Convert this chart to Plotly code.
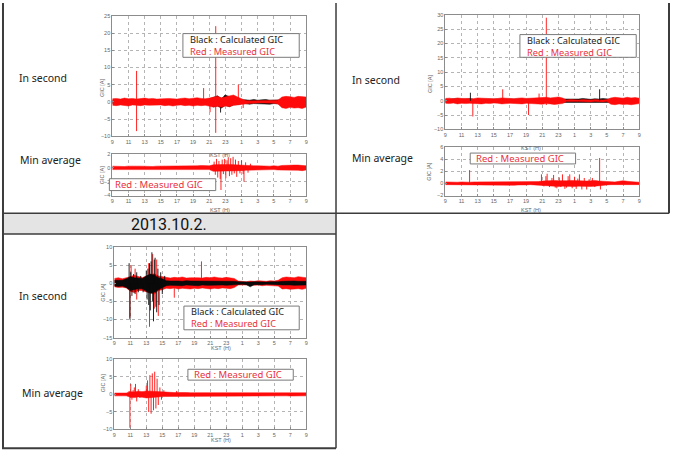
import plotly.graph_objects as go

W, H = 675, 471

# ---------------- data ----------------
tick_vals = [0, 2, 4, 6, 8, 10, 12, 14, 16, 18, 20, 22, 24]
tick_text = ["9", "11", "13", "15", "17", "19", "21", "23", "1", "3", "5", "7", "9"]
# envelope of the dense 1-s / 1-min records, read every half hour (hours after 09 KST)
env_t = [0.0, 0.5, 1.0, 1.5, 2.0, 2.5, 3.0, 3.5, 4.0, 4.5, 5.0, 5.5, 6.0, 6.5, 7.0, 7.5,
         8.0, 8.5, 9.0, 9.5, 10.0, 10.5, 11.0, 11.5, 12.0, 12.5, 13.0, 13.5, 14.0, 14.5,
         15.0, 15.5, 16.0, 16.5, 17.0, 17.5, 18.0, 18.5, 19.0, 19.5, 20.0, 20.5, 21.0,
         21.5, 22.0, 22.5, 23.0, 23.5, 24.0]

# ---- event 1 (top-left) : in second ----
red_hi_1 = [0.9, 1.0, 0.8, 1.1, 0.9, 1.0, 0.8, 1.0, 1.1, 0.9,
            1.0, 0.8, 0.9, 1.1, 1.0, 0.9, 0.8, 1.0, 1.1, 0.9,
            1.0, 1.2, 1.0, 0.9, 1.1, 1.3, 1.6, 1.2, 1.5, 1.8,
            2.0, 1.4, 1.0, 0.4, 0.3, 0.3, 0.4, 0.3, 0.3, 0.4,
            0.3, 0.5, 1.4, 1.6, 1.5, 1.3, 1.6, 1.5, 1.4]
red_lo_1 = [-1.0, -1.1, -0.9, -1.0, -1.2, -0.9, -1.0, -1.1, -0.9, -1.0,
            -1.1, -1.0, -0.9, -1.1, -1.0, -1.2, -1.0, -0.9, -1.1, -1.0,
            -1.2, -1.0, -1.1, -1.0, -1.2, -1.5, -1.3, -1.6, -1.2, -1.4,
            -1.0, -0.9, -0.7, -0.4, -0.3, -0.4, -0.3, -0.3, -0.4, -0.3,
            -0.4, -0.6, -1.7, -1.9, -1.6, -1.8, -1.7, -1.9, -1.5]
black_hi_1 = [0.5, 0.6, 0.5, 0.4, 0.6, 0.5, 0.5, 0.6, 0.4, 0.5,
              0.6, 0.5, 0.5, 0.4, 0.6, 0.5, 0.5, 0.6, 0.5, 0.4,
              0.6, 0.5, 0.5, 0.6, 0.8, 1.2, 1.8, 1.0, 2.0, 1.5,
              1.2, 0.8, 0.6, 0.6, 0.5, 0.7, 0.5, 0.6, 0.7, 0.5,
              0.6, 0.7, 0.6, 0.5, 0.7, 0.6, 0.5, 0.6, 0.5]
black_lo_1 = [-0.5, -0.6, -0.5, -0.6, -0.4, -0.5, -0.6, -0.5, -0.5, -0.6,
              -0.4, -0.5, -0.6, -0.5, -0.5, -0.4, -0.6, -0.5, -0.5, -0.6,
              -0.4, -0.5, -0.6, -0.5, -0.8, -1.5, -1.2, -1.8, -1.0, -1.4,
              -0.9, -0.7, -0.6, -0.5, -0.7, -0.5, -0.6, -0.5, -0.6, -0.7,
              -0.5, -0.6, -0.6, -0.7, -0.5, -0.6, -0.7, -0.5, -0.6]
red_spike_t_1 = [3.0, 3.0, 11.3, 12.1, 12.8, 12.8, 15.6, 16.2]
red_spike_v_1 = [9.0, -8.5, 4.0, -3.0, 22.0, -9.0, 5.0, -1.8]
black_spike_t_1 = [13.4, 13.9]
black_spike_v_1 = [-3.1, 1.9]

# ---- event 1 : min average ----
min_hi_1 = [0.25, 0.2, 0.25, 0.2, 0.25, 0.2, 0.25, 0.25, 0.2, 0.25,
            0.2, 0.25, 0.25, 0.2, 0.25, 0.3, 0.25, 0.2, 0.25, 0.3,
            0.25, 0.3, 0.35, 0.3, 0.3, 0.45, 0.5, 0.45, 0.5, 0.5,
            0.45, 0.4, 0.4, 0.35, 0.35, 0.3, 0.3, 0.25, 0.3, 0.25,
            0.3, 0.25, 0.35, 0.4, 0.35, 0.4, 0.4, 0.35, 0.3]
min_lo_1 = [-0.25, -0.2, -0.25, -0.2, -0.25, -0.25, -0.2, -0.25, -0.2, -0.25,
            -0.25, -0.2, -0.25, -0.2, -0.25, -0.2, -0.25, -0.25, -0.2, -0.2,
            -0.25, -0.2, -0.2, -0.25, -0.25, -0.5, -0.5, -0.45, -0.45, -0.5,
            -0.45, -0.4, -0.4, -0.35, -0.35, -0.3, -0.3, -0.25, -0.3, -0.25,
            -0.25, -0.3, -0.35, -0.35, -0.4, -0.35, -0.35, -0.4, -0.3]
min_spike_t_1 = [12.6, 12.75, 12.9, 13.05, 13.2, 13.35, 13.45, 13.6, 13.75, 13.9,
                 14.05, 14.2, 14.35, 14.5, 14.65, 14.8, 14.95, 15.1, 15.25, 15.4,
                 15.6, 15.8, 16.0, 16.2, 16.3, 16.5, 16.8, 17.1]
min_spike_v_1 = [0.9, -1.0, 1.3, -1.4, 1.0, -1.6, -3.2, 1.2, -0.9, 1.3,
                 -1.5, 1.1, 1.5, -1.2, 1.4, -1.0, 1.6, -0.8, 1.2, -1.3,
                 1.0, -0.8, 1.1, -0.9, -2.0, 0.8, -0.7, 0.6]

# ---- event 2 (top-right) : in second ----
red_hi_2 = [0.8, 0.9, 0.7, 1.0, 0.8, 0.9, 0.8, 0.7, 1.0, 0.9,
            0.8, 0.9, 0.7, 0.8, 1.0, 0.9, 0.8, 0.7, 0.9, 1.0,
            0.8, 0.9, 0.8, 1.0, 1.1, 1.2, 1.0, 1.1, 1.3, 1.0,
            0.3, 0.4, 0.3, 0.3, 0.4, 0.3, 0.3, 0.4, 0.3, 0.3,
            0.4, 1.0, 1.2, 1.1, 0.9, 1.2, 1.0, 1.1, 0.9]
red_lo_2 = [-0.9, -1.0, -0.8, -1.1, -0.9, -1.0, -0.9, -0.8, -1.0, -1.1,
            -0.9, -1.0, -0.8, -0.9, -1.1, -1.0, -0.9, -0.8, -1.0, -1.1,
            -0.9, -1.0, -0.9, -1.1, -1.2, -1.0, -1.1, -1.3, -1.1, -1.0,
            -0.3, -0.4, -0.3, -0.3, -0.4, -0.3, -0.4, -0.3, -0.3, -0.4,
            -0.3, -1.2, -1.4, -1.1, -1.3, -1.2, -1.4, -1.1, -1.0]
black_hi_2 = [0.6, 0.5, 0.7, 0.6, 0.5, 0.6, 0.7, 0.5, 0.6, 0.6,
              0.5, 0.7, 0.6, 0.5, 0.6, 0.7, 0.5, 0.6, 0.6, 0.5,
              0.7, 0.6, 0.5, 0.6, 0.7, 0.5, 0.6, 0.6, 0.5, 0.7,
              0.6, 0.7, 0.5, 0.6, 0.8, 0.6, 0.5, 0.7, 0.6, 0.8,
              0.6, 0.5, 0.7, 0.6, 0.5, 0.6, 0.7, 0.5, 0.6]
black_lo_2 = [-0.6, -0.7, -0.5, -0.6, -0.7, -0.6, -0.5, -0.7, -0.6, -0.6,
              -0.7, -0.5, -0.6, -0.7, -0.6, -0.5, -0.7, -0.6, -0.6, -0.7,
              -0.5, -0.6, -0.7, -0.6, -0.5, -0.7, -0.6, -0.6, -0.7, -0.5,
              -0.6, -0.5, -0.7, -0.6, -0.5, -0.6, -0.7, -0.5, -0.6, -0.5,
              -0.7, -0.6, -0.5, -0.7, -0.6, -0.6, -0.5, -0.7, -0.6]
red_spike_t_2 = [3.4, 7.1, 10.3, 11.6, 12.5, 12.5]
red_spike_v_2 = [-5.5, 4.0, -5.0, 2.5, 29.0, -1.5]
black_spike_t_2 = [3.1, 19.1]
black_spike_v_2 = [2.8, 4.0]

# ---- event 2 : min average ----
min_hi_2 = [0.25, 0.2, 0.25, 0.2, 0.25, 0.2, 0.2, 0.25, 0.25, 0.2,
            0.2, 0.2, 0.2, 0.25, 0.2, 0.25, 0.2, 0.2, 0.25, 0.2,
            0.25, 0.3, 0.25, 0.3, 0.4, 0.45, 0.4, 0.5, 0.45, 0.4,
            0.45, 0.5, 0.45, 0.4, 0.45, 0.4, 0.45, 0.5, 0.4, 0.35,
            0.25, 0.2, 0.25, 0.35, 0.45, 0.35, 0.25, 0.25, 0.2]
min_lo_2 = [-0.2, -0.25, -0.2, -0.25, -0.2, -0.25, -0.25, -0.3, -0.3, -0.25,
            -0.3, -0.25, -0.3, -0.25, -0.3, -0.25, -0.3, -0.3, -0.25, -0.2,
            -0.25, -0.2, -0.25, -0.25, -0.4, -0.45, -0.4, -0.45, -0.5, -0.45,
            -0.5, -0.45, -0.5, -0.45, -0.5, -0.45, -0.5, -0.45, -0.4, -0.35,
            -0.25, -0.2, -0.2, -0.15, -0.1, -0.15, -0.2, -0.2, -0.2]
min_spike_t_2 = [3.0, 11.9, 12.2, 12.45, 12.6, 12.9, 13.2, 13.4, 13.6, 13.8,
                 14.1, 14.3, 14.5, 14.8, 15.0, 15.2, 15.4, 15.7, 16.0, 16.2,
                 16.4, 16.6, 16.9, 17.2, 17.5, 17.8, 18.2, 18.5, 19.1, 19.2]
min_spike_v_2 = [2.2, 1.5, -0.5, 1.2, 1.6, -0.6, 0.9, 1.4, -0.7, -0.8,
                 1.0, -0.6, 1.5, -0.9, -0.7, 1.2, 1.5, -0.8, 1.1, -0.9,
                 0.8, 1.5, -1.0, 0.9, -1.0, 0.7, 0.9, -0.6, 4.2, -1.0]

# ---- event 3 (2013.10.2.) : in second ----
red_hi_3 = [1.3, 1.5, 1.2, 1.4, 1.8, 2.2, 1.8, 1.5, 2.0, 2.4,
            2.6, 2.0, 1.8, 1.5, 1.4, 1.6, 1.5, 1.7, 1.4, 1.5,
            1.6, 1.5, 1.4, 1.6, 1.5, 1.7, 1.5, 1.4, 1.6, 1.5,
            1.3, 0.6, 0.5, 0.4, 0.6, 0.5, 0.7, 0.6, 0.5, 0.7,
            0.6, 0.8, 1.5, 1.7, 1.6, 1.5, 1.8, 1.6, 1.5]
red_lo_3 = [-1.0, -1.2, -1.1, -1.3, -2.2, -2.6, -2.0, -2.0, -2.4, -2.8,
            -3.0, -2.0, -1.8, -1.4, -1.5, -1.3, -1.6, -1.4, -1.5, -1.6,
            -1.4, -1.5, -1.3, -1.5, -1.6, -1.4, -1.5, -1.3, -1.4, -1.5,
            -1.2, -0.5, -0.6, -0.5, -0.4, -0.6, -0.5, -0.7, -0.6, -0.5,
            -0.7, -0.8, -1.6, -1.5, -1.7, -1.6, -1.5, -1.7, -1.4]
black_hi_3 = [0.8, 0.9, 0.8, 1.2, 1.8, 1.5, 1.5, 1.3, 2.0, 2.5,
              2.2, 1.5, 1.2, 0.7, 0.6, 0.7, 0.6, 0.5, 0.7, 0.6,
              0.6, 0.5, 0.7, 0.6, 0.5, 0.6, 0.5, 0.6, 0.5, 0.5,
              0.5, 0.4, 0.3, 0.4, 0.3, 0.4, 0.3, 0.4, 0.3, 0.4,
              0.3, 0.4, 0.5, 0.6, 0.5, 0.6, 0.5, 0.6, 0.5]
black_lo_3 = [-0.8, -0.9, -0.8, -1.2, -2.0, -1.8, -1.5, -1.5, -2.2, -2.8,
              -2.5, -1.8, -1.2, -0.7, -0.6, -0.7, -0.6, -0.7, -0.5, -0.6,
              -0.6, -0.7, -0.5, -0.6, -0.6, -0.5, -0.6, -0.5, -0.6, -0.5,
              -0.5, -0.4, -0.3, -0.4, -1.0, -0.4, -0.3, -0.4, -0.3, -0.4,
              -0.3, -0.4, -0.5, -0.6, -0.5, -0.6, -0.5, -0.6, -0.5]
red_spike_t_3 = [1.95, 2.1, 2.6, 2.8, 4.3, 4.4, 4.8, 5.0, 5.3, 5.5, 7.5, 10.9]
red_spike_v_3 = [-9.5, 5.0, 4.0, -4.5, 5.5, -12.0, 8.0, -7.0, 6.5, -9.0, -4.0, 6.0]
black_spike_t_3 = [1.85, 1.95, 2.05, 2.2, 2.4, 2.6, 2.8, 3.0, 3.3, 3.6,
                   4.0, 4.1, 4.2, 4.3, 4.4, 4.5, 4.6, 4.7, 4.8, 4.9,
                   5.0, 5.1, 5.2, 5.3, 5.45, 5.6, 5.8, 6.0, 6.3]
black_spike_v_3 = [5.5, -10.0, 3.0, -3.5, 2.5, -3.0, 3.0, -2.5, 2.0, -2.5,
                   3.5, -4.5, 4.0, -6.0, 5.5, -7.5, 6.0, 8.5, -5.0, -10.5,
                   6.5, 7.0, -6.5, -8.0, 4.0, -6.0, 3.0, -3.0, 2.0]

# ---- event 3 : min average ----
min_hi_3 = [0.4, 0.45, 0.4, 0.4, 0.8, 0.7, 0.9, 0.8, 1.0, 0.9,
            0.8, 0.7, 0.6, 0.55, 0.6, 0.55, 0.6, 0.5, 0.55, 0.5,
            0.5, 0.45, 0.5, 0.4, 0.45, 0.4, 0.4, 0.45, 0.5, 0.4,
            0.45, 0.4, 0.45, 0.4, 0.5, 0.4, 0.45, 0.4, 0.4, 0.45,
            0.5, 0.4, 0.45, 0.5, 0.55, 0.5, 0.6, 0.55, 0.45]
min_lo_3 = [-0.4, -0.35, -0.4, -0.4, -0.8, -0.9, -0.7, -0.8, -1.0, -0.9,
            -0.8, -0.7, -0.6, -0.55, -0.6, -0.5, -0.55, -0.6, -0.5, -0.55,
            -0.45, -0.5, -0.45, -0.4, -0.4, -0.45, -0.5, -0.4, -0.45, -0.4,
            -0.4, -0.45, -0.4, -0.5, -0.4, -0.45, -0.4, -0.4, -0.45, -0.4,
            -0.4, -0.45, -0.4, -0.4, -0.45, -0.4, -0.4, -0.45, -0.4]
min_spike_t_3 = [1.85, 1.95, 2.05, 2.2, 2.35, 2.5, 2.65, 2.8, 3.0, 3.2,
                 3.5, 4.0, 4.15, 4.3, 4.45, 4.6, 4.75, 4.9, 5.05, 5.2,
                 5.35, 5.5, 5.7, 5.9, 6.2, 7.8]
min_spike_v_3 = [1.0, -9.5, 3.0, -1.5, 1.2, 2.0, 3.0, -2.0, 1.5, -1.0,
                 0.8, 2.5, 4.0, -5.0, 5.5, -5.5, 6.0, -4.5, 6.5, -4.0,
                 4.5, -3.0, 2.0, -1.5, 1.2, 1.0]

header_text = "2013.10.2."
legend_black = "Black : Calculated GIC"
legend_red = "Red : Measured GIC"

# ---------------- helpers ----------------
def px(x):
    return x / W

def py(y):
    return 1 - y / H

RED = "#ff0a0a"
BLACK = "#0a0a0a"
RED_TXT = "#e8323c"

fig = go.Figure()


def add_band(hi, lo, color, sfx):
    xs = env_t + env_t[::-1]
    ys = hi + lo[::-1]
    fig.add_trace(go.Scatter(x=xs, y=ys, mode="lines", fill="toself", fillcolor=color,
                             line=dict(color=color, width=0.5),
                             xaxis="x" + sfx, yaxis="y" + sfx,
                             showlegend=False, hoverinfo="skip"))


def add_spikes(ts, vs, color, sfx):
    xs, ys = [], []
    for t, v in zip(ts, vs):
        xs += [t, t, None]
        ys += [0, v, None]
    fig.add_trace(go.Scatter(x=xs, y=ys, mode="lines", line=dict(color=color, width=0.9),
                             xaxis="x" + sfx, yaxis="y" + sfx,
                             showlegend=False, hoverinfo="skip"))


panels = [
    ((111, 306, 13, 135), [-10, 25], 5,
     [("band", black_hi_1, black_lo_1, BLACK), ("spk", black_spike_t_1, black_spike_v_1, BLACK),
      ("band", red_hi_1, red_lo_1, RED), ("spk", red_spike_t_1, red_spike_v_1, RED)]),
    ((111, 306, 153, 195), [-4, 2], 2,
     [("band", min_hi_1, min_lo_1, RED), ("spk", min_spike_t_1, min_spike_v_1, RED)]),
    ((446, 641, 12, 128), [-10, 30], 5,
     [("band", black_hi_2, black_lo_2, BLACK),
      ("band", red_hi_2, red_lo_2, RED), ("spk", red_spike_t_2, red_spike_v_2, RED),
      ("spk", black_spike_t_2, black_spike_v_2, BLACK)]),
    ((446, 641, 146, 195), [-2, 6], 2,
     [("band", min_hi_2, min_lo_2, RED), ("spk", min_spike_t_2, min_spike_v_2, RED)]),
    ((113, 306, 247, 339), [-15, 10], 5,
     [("band", red_hi_3, red_lo_3, RED), ("spk", red_spike_t_3, red_spike_v_3, RED),
      ("band", black_hi_3, black_lo_3, BLACK), ("spk", black_spike_t_3, black_spike_v_3, BLACK)]),
    ((113, 306, 361, 432), [-10, 10], 5,
     [("band", min_hi_3, min_lo_3, RED), ("spk", min_spike_t_3, min_spike_v_3, RED)]),
]

annotations = []
shapes = []
AXF = dict(size=5.5, color="#666666", family="Liberation Sans")
for k, (box, yr, dt, layers) in enumerate(panels, start=1):
    x0, x1, y0, y1 = box
    sfx = "" if k == 1 else str(k)
    for kind, a, b, c in layers:
        if kind == "band":
            add_band(a, b, c, sfx)
        else:
            add_spikes(a, b, c, sfx)
    common = dict(showgrid=True, gridcolor="#b4b4b4", griddash="dot", gridwidth=1,
                  showline=True, mirror=True, linecolor="#8c8c8c", linewidth=1,
                  ticks="inside", ticklen=2, tickcolor="#8c8c8c",
                  tickfont=AXF, zeroline=False, fixedrange=True)
    fig.update_layout(**{
        "xaxis" + sfx: dict(domain=[px(x0), px(x1)], range=[0, 24], tickvals=tick_vals,
                            ticktext=tick_text, anchor="y" + sfx, **common),
        "yaxis" + sfx: dict(domain=[py(y1), py(y0)], range=yr, dtick=dt,
                            anchor="x" + sfx, **common),
    })
    annotations.append(dict(x=px((x0 + x1) / 2), y=py(y1 + 14.5), xref="paper", yref="paper",
                            text="KST (H)", showarrow=False, font=AXF, borderpad=0))
    annotations.append(dict(x=px(x0 - 16), y=py((y0 + y1) / 2), xref="paper", yref="paper",
                            text="GIC [A]", textangle=-90, showarrow=False, font=AXF))

TXT = "Noto Sans"


def legend_box(x0, x1, y0, y1):
    shapes.append(dict(type="rect", xref="paper", yref="paper",
                       x0=px(x0), x1=px(x1), y0=py(y1), y1=py(y0),
                       line=dict(color="#7a7a7a", width=1), fillcolor="white", layer="above"))


def text(x, y, s, size, color, anchor="left", family=TXT):
    annotations.append(dict(x=px(x), y=py(y), xref="paper", yref="paper", text=s,
                            showarrow=False, xanchor=anchor, yanchor="middle", align="left",
                            font=dict(size=size, color=color, family=family)))


two_line = legend_black + "<br><span style='color:" + RED_TXT + "'>" + legend_red + "</span>"
for (bx0, bx1, by0, by1, tx, cy) in [(182, 299, 31, 55, 187, 43),
                                     (521, 638, 32, 55, 526, 44),
                                     (183, 299, 307, 331, 188, 319)]:
    legend_box(bx0, bx1, by0, by1)
    text(tx, cy, two_line, 9.2, "#222222")

for (bx0, bx1, by0, by1, tx, ly) in [(108, 215, 178, 190, 112, 184),
                                     (471, 577, 152, 163, 475, 157.5),
                                     (187, 293, 371, 382, 191, 376.5)]:
    legend_box(bx0, bx1, by0, by1)
    text(tx, ly, legend_red, 9.5, RED_TXT)

for (x, y, s) in [(15, 76, "In second"), (16, 159, "Min average"),
                  (350, 78, "In second"), (350, 157, "Min average"),
                  (15, 297, "In second"), (18, 395, "Min average")]:
    text(x, y, s, 10.5, "#222222")

# table structure
LC = "#3c3c3c"
shapes.append(dict(type="rect", xref="paper", yref="paper", x0=px(1), x1=px(336),
                   y0=py(234), y1=py(213), fillcolor="#e4e4e4", line=dict(width=0), layer="below"))
for (xa, ya, xb, yb, w) in [(1, 0, 1, 451, 2), (336, 0, 336, 451, 1.5), (671, 0, 671, 213, 2),
                            (0, 213, 671, 213, 1.5), (0, 234, 336, 234, 1.5), (0, 451, 336, 451, 2)]:
    shapes.append(dict(type="line", xref="paper", yref="paper", x0=px(xa), x1=px(xb),
                       y0=py(ya), y1=py(yb), line=dict(color=LC, width=w)))

text(168, 224, header_text, 16, "#111111", anchor="center",
     family="Liberation Sans Narrow, Arial Narrow, Roboto")

fig.update_layout(width=W, height=H, margin=dict(l=0, r=0, t=0, b=0),
                  paper_bgcolor="white", plot_bgcolor="white",
                  annotations=annotations, shapes=shapes, showlegend=False)

fig.write_html("out.html")
